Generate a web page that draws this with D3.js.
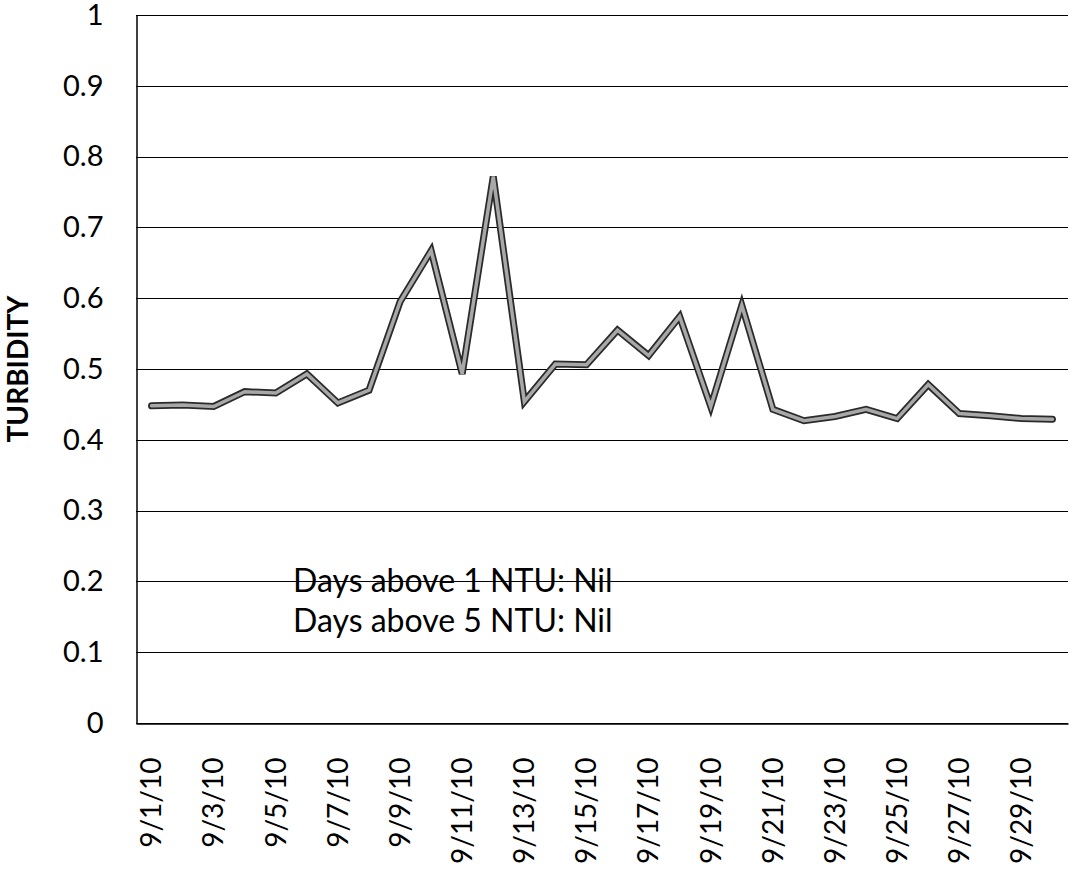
<!DOCTYPE html>
<html>
<head>
<meta charset="utf-8">
<script src="https://cdn.jsdelivr.net/npm/d3@7"></script>
<style>
  body { margin: 0; background: #fff; }
  text { font-family: Lato, "Noto Sans", sans-serif; fill: #000; }
</style>
</head>
<body>
<div id="chart"></div>
<script>
// daily turbidity readings, September 2010
const dates = d3.range(1, 31).map(d => "9/" + d + "/10");
const turbidity = [0.448, 0.449, 0.447, 0.468, 0.466, 0.493, 0.452, 0.470, 0.595, 0.667,
                   0.493, 0.772, 0.454, 0.507, 0.506, 0.555, 0.519, 0.574, 0.447, 0.590,
                   0.443, 0.427, 0.433, 0.443, 0.430, 0.478, 0.437, 0.434, 0.430, 0.429];
const yTicks = [0, 0.1, 0.2, 0.3, 0.4, 0.5, 0.6, 0.7, 0.8, 0.9, 1];
const notes = ["Days above 1 NTU: Nil", "Days above 5 NTU: Nil"];

const width = 1069, height = 871;
const margin = {top: 15, right: 1, bottom: 148, left: 136};

const svg = d3.select("#chart").append("svg")
    .attr("width", width)
    .attr("height", height);

const x = d3.scaleBand()
    .domain(dates)
    .range([margin.left, width - margin.right]);

const y = d3.scaleLinear()
    .domain([0, 1])
    .range([height - margin.bottom, margin.top]);

// gridlines
svg.append("g")
    .selectAll("line")
    .data(yTicks)
    .enter().append("line")
    .attr("x1", margin.left)
    .attr("x2", width - margin.right)
    .attr("y1", d => Math.round(y(d)) + 0.5)
    .attr("y2", d => Math.round(y(d)) + 0.5)
    .attr("stroke", "#000")
    .attr("stroke-width", 1);

// y axis
const yAxis = svg.append("g")
    .attr("transform", `translate(${margin.left + 0.5},0)`)
    .call(d3.axisLeft(y).tickValues(yTicks).tickSize(0).tickPadding(33)
        .tickFormat(d => d === 0 ? "0" : d === 1 ? "1" : d3.format(".1f")(d)));
yAxis.select(".domain").attr("stroke", "#000").attr("stroke-width", 1.5);
yAxis.selectAll("text").style("font-size", "29px");

// x axis
const xAxis = svg.append("g")
    .attr("transform", `translate(0,${Math.round(y(0)) + 0.5})`)
    .call(d3.axisBottom(x).tickValues(dates.filter((d, i) => i % 2 === 0)).tickSize(0));
xAxis.select(".domain").attr("stroke", "#000").attr("stroke-width", 1.5);
xAxis.selectAll("text")
    .style("font-size", "28px")
    .attr("text-anchor", "end")
    .attr("transform", "rotate(-90)")
    .attr("x", -34)
    .attr("y", 0)
    .attr("dy", "0.35em");

// axis title
svg.append("text")
    .attr("transform", `translate(28,${y(0.5)}) rotate(-90)`)
    .attr("text-anchor", "middle")
    .style("font-size", "28px")
    .style("font-weight", "bold")
    .text("TURBIDITY");

// the series: dark edge with a grey core
const line = d3.line()
    .x((d, i) => x(dates[i]) + x.bandwidth() / 2)
    .y(d => y(d));

svg.append("path")
    .datum(turbidity)
    .attr("fill", "none")
    .attr("stroke", "#2a2a2a")
    .attr("stroke-width", 7)
    .attr("stroke-linejoin", "miter")
    .attr("stroke-linecap", "round")
    .attr("d", line);

svg.append("path")
    .datum(turbidity)
    .attr("fill", "none")
    .attr("stroke", "#a8a8a8")
    .attr("stroke-width", 3.5)
    .attr("stroke-linejoin", "miter")
    .attr("stroke-linecap", "round")
    .attr("d", line);

// note
svg.append("g")
    .selectAll("text")
    .data(notes)
    .enter().append("text")
    .attr("x", 293)
    .attr("y", (d, i) => 592 + i * 40)
    .style("font-size", "32px")
    .text(d => d);
</script>
</body>
</html>
